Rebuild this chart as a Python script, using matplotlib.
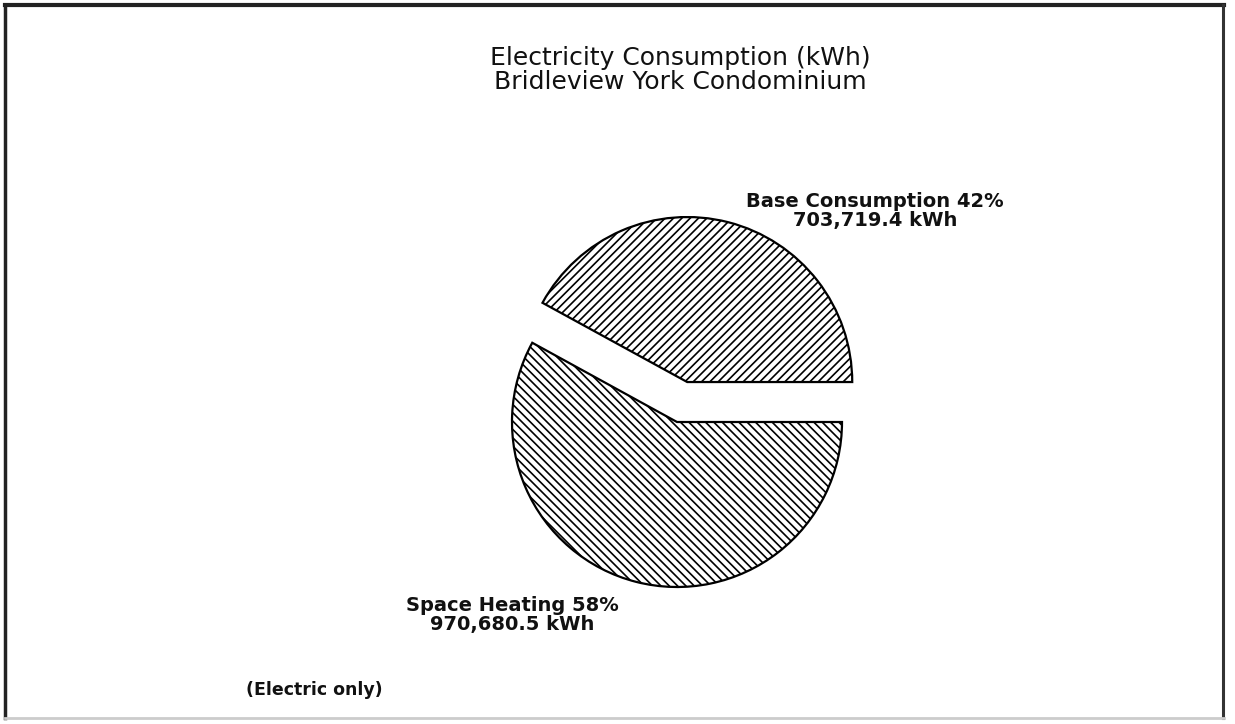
import matplotlib
matplotlib.use("Agg")
import matplotlib.pyplot as plt
from matplotlib.lines import Line2D

# consumption split for the building
categories = ["Base Consumption", "Space Heating"]
kwh = [703719.4, 970680.5]
hatches = ["////", "\\\\\\\\"]
explode = [0.25, 0.0]

W, H = 1235, 724
R = 165.0  # pie radius in pixels

plt.rcParams["hatch.linewidth"] = 1.2

fig = plt.figure(figsize=(W / 100, H / 100), dpi=100)
ax = fig.add_axes([0, 0, 1, 1])

# pie drawn in radius units so explode is a plain fraction
wedges, _ = ax.pie(kwh, explode=explode, startangle=0, counterclock=True,
                   colors=["white", "white"], hatch=hatches, radius=1.0,
                   center=(677 / R, (H - 422) / R), frame=True,
                   wedgeprops=dict(edgecolor="black", linewidth=1.6))
ax.set_xlim(0, W / R)
ax.set_ylim(0, H / R)
ax.set_aspect("equal")
ax.axis("off")

total = sum(kwh)
pct = [round(100 * v / total) for v in kwh]

def px(x, y):
    return x / W, 1 - y / H

fig.text(*px(680, 70), "Electricity Consumption (kWh)\nBridleview York Condominium",
         ha="center", va="center", fontsize=18, linespacing=0.98,
         family="DejaVu Sans", color="#111111")

fig.text(*px(875, 211), f"{categories[0]} {pct[0]}%\n{kwh[0]:,.1f} kWh",
         ha="center", va="center", fontsize=14, fontweight="bold",
         linespacing=1.0, color="#111111")
fig.text(*px(512, 615), f"{categories[1]} {pct[1]}%\n{kwh[1]:,.1f} kWh",
         ha="center", va="center", fontsize=14, fontweight="bold",
         linespacing=1.0, color="#111111")
fig.text(*px(314, 690), "(Electric only)", ha="center", va="center",
         fontsize=12.5, fontweight="bold", color="#111111")

# page border
border = [((5, 5), (1224, 5), "#222222", 3.0),
          ((5, 5), (5, 718), "#222222", 2.5),
          ((1223, 5), (1223, 718), "#333333", 2.2),
          ((5, 718), (1224, 718), "#cccccc", 2.0)]
for (x0, y0), (x1, y1), c, lw in border:
    fig.add_artist(Line2D([x0 / W, x1 / W], [1 - y0 / H, 1 - y1 / H],
                          transform=fig.transFigure, color=c, linewidth=lw))

fig.savefig("out.png", dpi=100, facecolor="white")
